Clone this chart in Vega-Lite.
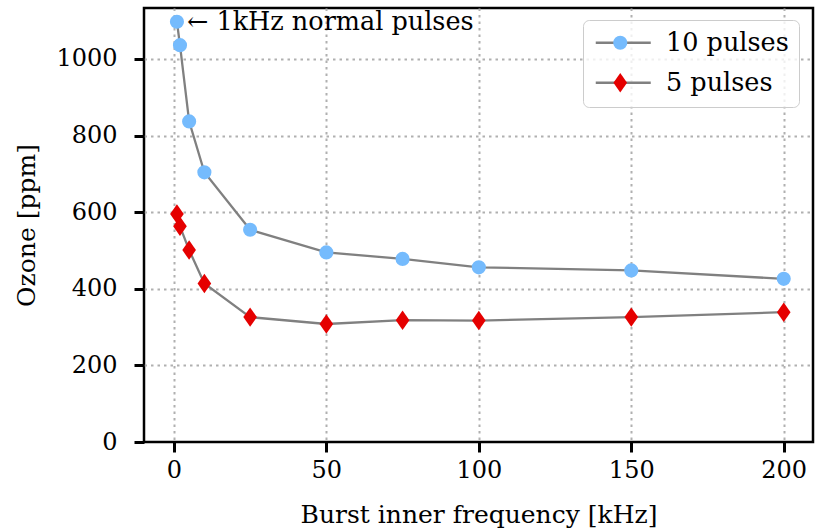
{
  "$schema": "https://vega.github.io/schema/vega-lite/v6.json",
  "width": 669,
  "height": 434,
  "autosize": {"type": "none"},
  "padding": {"left": 144, "top": 8, "right": 14, "bottom": 87},
  "config": {
    "font": "DejaVu Serif",
    "view": {"stroke": "black", "strokeWidth": 2.5},
    "axis": {
      "domain": false,
      "tickColor": "black",
      "tickWidth": 3,
      "tickSize": 10,
      "labelFont": "DejaVu Serif",
      "labelFontSize": 24,
      "labelColor": "black",
      "titleFont": "DejaVu Serif",
      "titleFontSize": 25,
      "titleFontWeight": "normal",
      "titleColor": "black",
      "gridColor": "#b0b0b0",
      "gridDash": [2.5, 4],
      "gridWidth": 2
    },
    "legend": {"labelFont": "DejaVu Serif"}
  },
  "datasets": {
    "pts": [
      {"freq": 1, "ozone": 1097, "series": "10 pulses"},
      {"freq": 2, "ozone": 1036, "series": "10 pulses"},
      {"freq": 5, "ozone": 837, "series": "10 pulses"},
      {"freq": 10, "ozone": 704, "series": "10 pulses"},
      {"freq": 25, "ozone": 554, "series": "10 pulses"},
      {"freq": 50, "ozone": 495, "series": "10 pulses"},
      {"freq": 75, "ozone": 478, "series": "10 pulses"},
      {"freq": 100, "ozone": 456, "series": "10 pulses"},
      {"freq": 150, "ozone": 448, "series": "10 pulses"},
      {"freq": 200, "ozone": 426, "series": "10 pulses"},
      {"freq": 1, "ozone": 595, "series": "5 pulses"},
      {"freq": 2, "ozone": 563, "series": "5 pulses"},
      {"freq": 5, "ozone": 501, "series": "5 pulses"},
      {"freq": 10, "ozone": 414, "series": "5 pulses"},
      {"freq": 25, "ozone": 326, "series": "5 pulses"},
      {"freq": 50, "ozone": 308, "series": "5 pulses"},
      {"freq": 75, "ozone": 318, "series": "5 pulses"},
      {"freq": 100, "ozone": 317, "series": "5 pulses"},
      {"freq": 150, "ozone": 326, "series": "5 pulses"},
      {"freq": 200, "ozone": 339, "series": "5 pulses"}
    ],
    "ann": [{"freq": 1, "ozone": 1097, "text": "← 1kHz normal pulses"}]
  },
  "encoding": {
    "x": {
      "field": "freq", "type": "quantitative",
      "scale": {"domain": [-9.8, 209.6], "nice": false, "zero": false},
      "axis": {"values": [0, 50, 100, 150, 200], "title": "Burst inner frequency [kHz]", "labelPadding": 6, "titlePadding": 20}
    },
    "y": {
      "field": "ozone", "type": "quantitative",
      "scale": {"domain": [0, 1133], "nice": false},
      "axis": {
        "values": [0, 200, 400, 600, 800, 1000], "format": "d", "title": "Ozone [ppm]", "labelPadding": 17, "titlePadding": 16,
        "gridOpacity": {"condition": {"test": "datum.value === 0", "value": 0}, "value": 1}
      }
    }
  },
  "layer": [
    {
      "data": {"name": "pts"},
      "mark": {"type": "line", "strokeWidth": 2.3},
      "encoding": {
        "color": {
          "field": "series", "type": "nominal",
          "scale": {"range": ["#808080", "#808080"]},
          "legend": {
            "title": null,
            "orient": "none",
            "legendX": 439,
            "legendY": 12,
            "symbolType": "M-2.75,0L2.75,0",
            "symbolSize": 400,
            "symbolOffset": 17.5,
            "symbolStrokeWidth": 2.3,
            "labelFontSize": 25.5,
            "labelColor": "black",
            "labelOffset": 30,
            "rowPadding": 13,
            "padding": 10,
            "strokeColor": "#cccccc",
            "cornerRadius": 6,
            "fillColor": "rgba(255,255,255,0.8)"
          }
        }
      }
    },
    {
      "data": {"name": "pts"},
      "mark": {"type": "point", "filled": true, "opacity": 1, "strokeWidth": 0},
      "encoding": {
        "fill": {
          "field": "series", "type": "nominal",
          "scale": {"domain": ["10 pulses", "5 pulses"], "range": ["#75bbfd", "#e50000"]},
          "legend": {"title": null, "orient": "none", "legendX": 453.5, "legendY": 12, "labelExpr": "' '", "labelOpacity": 0, "labelFontSize": 25.5, "rowPadding": 13, "padding": 10, "symbolStrokeWidth": 0}
        },
        "shape": {
          "field": "series", "type": "nominal",
          "scale": {"domain": ["10 pulses", "5 pulses"], "range": ["circle", "M0,-1L0.7,0L0,1L-0.7,0Z"]},
          "legend": {"title": null, "orient": "none", "legendX": 453.5, "legendY": 12, "labelExpr": "' '", "labelOpacity": 0, "labelFontSize": 25.5, "rowPadding": 13, "padding": 10, "symbolStrokeWidth": 0}
        },
        "size": {
          "field": "series", "type": "nominal",
          "scale": {"domain": ["10 pulses", "5 pulses"], "range": [200, 380]},
          "legend": {"title": null, "orient": "none", "legendX": 453.5, "legendY": 12, "labelExpr": "' '", "labelOpacity": 0, "labelFontSize": 25.5, "rowPadding": 13, "padding": 10, "symbolStrokeWidth": 0}
        }
      }
    },
    {
      "data": {"name": "ann"},
      "mark": {"type": "text", "align": "left", "baseline": "middle", "dx": 10, "fontSize": 25.5, "font": "DejaVu Serif", "color": "black"},
      "encoding": {"text": {"field": "text"}}
    }
  ]
}
